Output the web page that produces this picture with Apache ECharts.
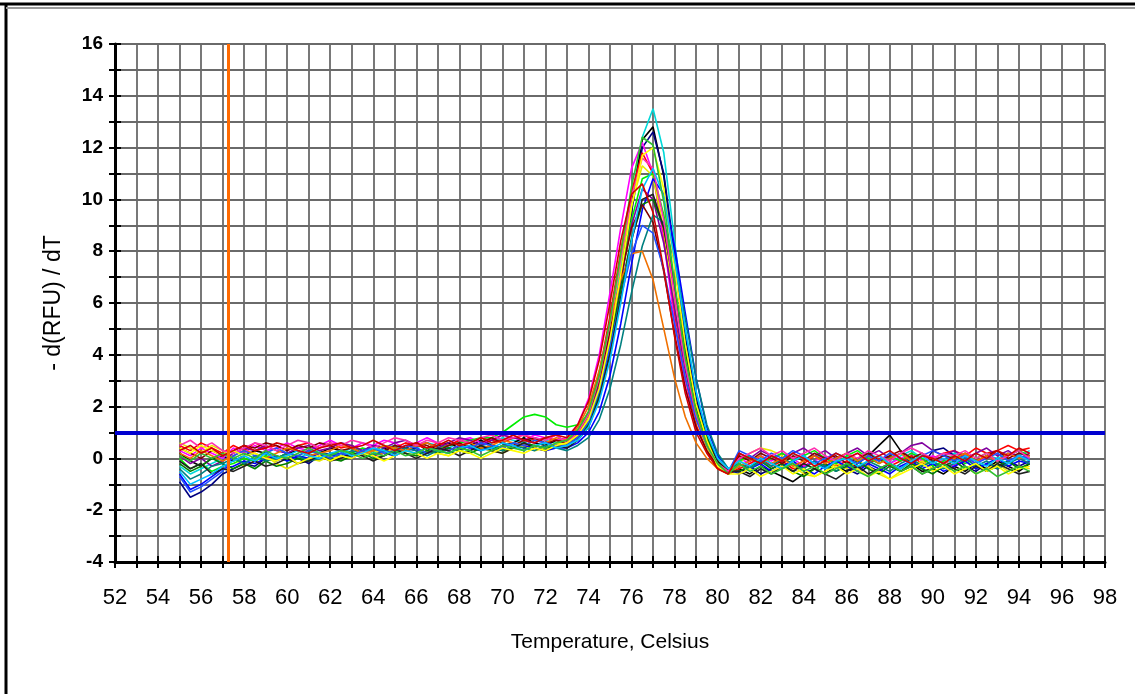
<!DOCTYPE html>
<html>
<head>
<meta charset="utf-8">
<title>Melt curve</title>
<script src="https://cdn.jsdelivr.net/npm/echarts@6/dist/echarts.min.js"></script>
<style>
  html, body { margin: 0; padding: 0; background: #fff; }
  #chart { width: 1135px; height: 694px; }
</style>
</head>
<body>
<div id="chart"></div>
<script>
// temperature steps (Celsius)
const temperatures = [
  55, 55.5, 56, 56.5, 57, 57.5, 58, 58.5, 59, 59.5,
  60, 60.5, 61, 61.5, 62, 62.5, 63, 63.5, 64, 64.5,
  65, 65.5, 66, 66.5, 67, 67.5, 68, 68.5, 69, 69.5,
  70, 70.5, 71, 71.5, 72, 72.5, 73, 73.5, 74, 74.5,
  75, 75.5, 76, 76.5, 77, 77.5, 78, 78.5, 79, 79.5,
  80, 80.5, 81, 81.5, 82, 82.5, 83, 83.5, 84, 84.5,
  85, 85.5, 86, 86.5, 87, 87.5, 88, 88.5, 89, 89.5,
  90, 90.5, 91, 91.5, 92, 92.5, 93, 93.5, 94, 94.5
];

// -d(RFU)/dT per well
const well01 = [
  -0.3, -0.6, -0.4, -0.2, 0.0,
  0.1, -0.2, 0.0, 0.2, 0.1, -0.1, 0.0, 0.2, 0.3, 0.1,
  0.2, 0.4, 0.3, 0.2, 0.4, 0.5, 0.3, 0.4, 0.6, 0.5,
  0.4, 0.6, 0.7, 0.5, 0.6, 0.8, 0.7, 0.6, 0.8, 0.7, 0.6,
  0.7, 1.0, 1.6, 2.9, 4.9, 7.4, 10.0, 12.4, 13.5, 11.8, 8.4, 5.0, 2.5, 0.9, -0.1, -0.5,
  -0.3, -0.1, 0.1, -0.2, 0.0, 0.2, -0.1, 0.1, 0.0, -0.2,
  0.1, -0.1, 0.2, 0.0, -0.2, 0.1, 0.3, 0.0, -0.1, 0.1,
  0.2, 0.0, -0.2, 0.1, 0.0, 0.2, 0.1, 0.3
];
const well02 = [
  0.2, -0.1, -0.3, 0.0, 0.1,
  -0.1, 0.1, 0.3, 0.2, 0.0, 0.2, 0.3, 0.1, 0.2, 0.4,
  0.3, 0.1, 0.3, 0.5, 0.4, 0.2, 0.4, 0.6, 0.3, 0.5,
  0.6, 0.4, 0.5, 0.7, 0.5, 0.4, 0.6, 0.8, 0.6, 0.5, 0.7,
  0.6, 0.9, 1.4, 2.6, 4.5, 7.0, 9.8, 12.3, 12.8, 10.9, 7.6, 4.3, 2.0, 0.6, -0.3, -0.6,
  -0.4, -0.6, -0.3, -0.5, -0.7, -0.9, -0.6, -0.4, -0.6, -0.3,
  -0.5, -0.2, 0.1, 0.5, 0.9, 0.3, -0.2, -0.5, -0.4, -0.6,
  -0.3, -0.5, -0.2, -0.4, -0.1, -0.3, -0.5, -0.2
];
const well03 = [
  -0.9, -1.5, -1.3, -1.0, -0.6,
  -0.4, -0.2, -0.3, 0.0, -0.1, 0.1, 0.0, -0.2, 0.1, 0.2,
  0.0, 0.2, 0.1, 0.3, 0.2, 0.1, 0.3, 0.4, 0.2, 0.3,
  0.4, 0.3, 0.5, 0.4, 0.3, 0.5, 0.6, 0.4, 0.5, 0.4, 0.5,
  0.5, 0.8, 1.3, 2.4, 4.2, 6.7, 9.5, 12.0, 12.6, 11.0, 7.9, 4.7, 2.3, 0.8, -0.2, -0.5,
  -0.5, -0.3, -0.6, -0.4, -0.2, -0.5, -0.3, -0.1, -0.4, -0.2,
  -0.4, -0.6, -0.3, -0.5, -0.2, -0.4, -0.1, -0.3, 0.3, 0.4,
  0.1, -0.3, -0.5, -0.2, -0.4, -0.1, -0.3, -0.1
];
const well04 = [
  0.3, 0.1, 0.4, 0.2, 0.0,
  0.4, 0.2, 0.5, 0.3, 0.4, 0.6, 0.4, 0.3, 0.5, 0.7,
  0.5, 0.4, 0.6, 0.5, 0.7, 0.6, 0.4, 0.6, 0.8, 0.6,
  0.5, 0.7, 0.8, 0.6, 0.7, 0.9, 0.8, 0.7, 0.9, 0.8, 0.7,
  0.8, 1.3, 2.3, 4.0, 6.4, 8.9, 11.2, 12.2, 11.0, 8.4, 5.3, 2.8, 1.2, 0.3, -0.3, -0.5,
  0.0, -0.2, 0.1, -0.1, 0.2, 0.0, -0.3, -0.1, 0.1, -0.2,
  0.0, 0.2, -0.1, 0.1, -0.2, 0.0, 0.2, -0.1, 0.1, -0.1,
  -0.3, 0.0, -0.2, 0.1, -0.1, 0.2, 0.0, -0.2
];
const well05 = [
  0.5, 0.3, 0.6, 0.4, 0.2,
  0.5, 0.3, 0.6, 0.4, 0.5, 0.3, 0.5, 0.6, 0.4, 0.6,
  0.4, 0.5, 0.3, 0.1, 0.2, 0.4, 0.6, 0.5, 0.4, 0.6,
  0.5, 0.7, 0.6, 0.8, 0.7, 0.6, 0.8, 0.9, 0.7, 0.8, 0.7,
  0.6, 1.0, 1.8, 3.3, 5.5, 8.0, 10.3, 11.8, 11.0, 8.7, 5.7, 3.1, 1.3, 0.3, -0.4, -0.6,
  -0.4, -0.2, 0.0, -0.3, -0.1, -0.4, -0.2, 0.1, -0.1, -0.3,
  -0.1, -0.4, -0.2, 0.0, -0.3, -0.1, 0.1, -0.2, 0.0, 0.2,
  0.3, 0.1, 0.4, 0.2, 0.3, 0.5, 0.3, 0.4
];
const well06 = [
  0.6, 0.4, 0.2, 0.5, 0.3,
  0.0, -0.3, -0.1, 0.1, -0.2, -0.4, -0.2, 0.0, -0.1, 0.1,
  0.0, 0.2, 0.1, 0.3, 0.2, 0.4, 0.2, 0.1, 0.3, 0.2,
  0.1, 0.3, 0.2, 0.4, 0.3, 0.2, 0.4, 0.5, 0.3, 0.4, 0.6,
  0.5, 0.9, 1.6, 3.1, 5.2, 7.6, 9.8, 11.3, 10.9, 8.8, 5.9, 3.3, 1.5, 0.4, -0.3, -0.5,
  -0.2, 0.2, 0.4, 0.3, 0.1, -0.3, -0.6, -0.7, -0.5, -0.2,
  -0.4, -0.1, -0.3, -0.6, -0.8, -0.5, -0.3, -0.1, -0.4, -0.2,
  -0.5, -0.3, -0.6, -0.4, -0.2, -0.5, -0.3, -0.4
];
const well07 = [
  0.0, -0.4, -0.2, -0.5, -0.3,
  -0.2, 0.0, -0.1, 0.1, 0.0, 0.2, 0.1, 0.3, 0.2, 0.1,
  0.3, 0.2, 0.4, 0.3, 0.5, 0.4, 0.3, 0.5, 0.6, 0.4,
  0.5, 0.6, 0.7, 0.8, 0.8, 1.0, 1.3, 1.6, 1.7, 1.6, 1.3,
  1.2, 1.3, 1.7, 2.8, 4.6, 6.9, 9.2, 10.8, 11.0, 9.4, 6.6, 3.9, 1.9, 0.6, -0.2, -0.5,
  -0.1, 0.1, -0.2, 0.0, 0.2, -0.1, 0.1, 0.3, 0.0, -0.2,
  0.1, 0.3, 0.0, -0.2, 0.1, -0.1, 0.2, 0.0, -0.3, -0.1,
  0.1, -0.2, 0.0, 0.2, -0.1, 0.1, 0.3, 0.1
];
const well08 = [
  -0.6, -1.2, -1.0, -0.7, -0.4,
  -0.3, -0.1, -0.2, 0.0, 0.1, -0.1, 0.1, 0.0, 0.2, 0.1,
  0.2, 0.0, 0.2, 0.1, 0.3, 0.2, 0.4, 0.3, 0.2, 0.4,
  0.3, 0.5, 0.4, 0.3, 0.5, 0.4, 0.6, 0.5, 0.4, 0.3, 0.4,
  0.4, 0.6, 1.0, 1.8, 3.2, 5.2, 7.5, 9.6, 10.8, 10.2, 8.2, 5.6, 3.1, 1.2, 0.1, -0.4,
  -0.6, -0.4, -0.2, -0.5, -0.3, -0.1, -0.4, -0.6, -0.3, -0.1,
  -0.3, -0.5, -0.2, -0.4, -0.6, -0.3, -0.1, -0.4, -0.2, -0.5,
  -0.3, -0.1, -0.4, -0.2, 0.0, -0.3, -0.1, -0.2
];
const well09 = [
  0.1, -0.2, 0.0, -0.3, -0.1,
  0.2, 0.4, 0.3, 0.5, 0.3, 0.2, 0.4, 0.5, 0.3, 0.4,
  0.6, 0.5, 0.3, 0.5, 0.4, 0.6, 0.7, 0.5, 0.6, 0.4,
  0.6, 0.8, 0.7, 0.5, 0.7, 0.9, 0.8, 0.7, 0.6, 0.8, 0.9,
  0.6, 0.9, 1.5, 2.8, 4.7, 6.9, 9.0, 10.4, 10.0, 8.3, 5.8, 3.4, 1.6, 0.5, -0.2, -0.5,
  0.2, 0.0, 0.3, 0.1, -0.1, 0.2, 0.4, 0.1, 0.3, 0.0,
  0.2, 0.4, 0.1, 0.3, 0.0, 0.2, 0.5, 0.6, 0.3, 0.1,
  0.3, 0.0, 0.2, 0.4, 0.1, 0.3, 0.0, 0.2
];
const well10 = [
  -0.2, -0.5, -0.3, 0.0, -0.2,
  -0.4, -0.2, -0.4, -0.1, -0.3, -0.2, 0.0, -0.1, 0.1, 0.0,
  -0.1, 0.1, 0.2, 0.0, 0.1, 0.3, 0.2, 0.1, 0.3, 0.2,
  0.4, 0.3, 0.2, 0.4, 0.5, 0.3, 0.4, 0.6, 0.5, 0.4, 0.5,
  0.5, 0.8, 1.3, 2.5, 4.3, 6.5, 8.5, 9.8, 10.0, 8.9, 6.6, 4.1, 2.1, 0.8, -0.1, -0.5,
  -0.5, -0.3, -0.1, -0.4, -0.2, -0.5, -0.7, -0.4, -0.2, -0.5,
  -0.3, -0.1, -0.4, -0.6, -0.3, -0.5, -0.2, -0.4, -0.6, -0.3,
  -0.1, -0.4, -0.2, -0.5, -0.3, -0.1, -0.4, -0.2
];
const well11 = [
  0.4, 0.2, 0.0, 0.3, 0.1,
  0.3, 0.5, 0.4, 0.6, 0.5, 0.3, 0.5, 0.4, 0.6, 0.5,
  0.3, 0.4, 0.2, 0.4, 0.3, 0.5, 0.4, 0.6, 0.5, 0.3,
  0.5, 0.6, 0.4, 0.6, 0.8, 0.6, 0.5, 0.7, 0.8, 0.6, 0.7,
  0.6, 1.0, 1.7, 3.0, 4.9, 7.0, 8.9, 9.8, 9.1, 7.2, 4.8, 2.7, 1.2, 0.3, -0.3, -0.6,
  0.1, -0.1, 0.2, 0.0, -0.2, 0.1, -0.1, 0.2, 0.0, 0.1,
  -0.2, 0.0, 0.2, -0.1, 0.1, 0.3, 0.0, 0.2, -0.1, 0.1,
  0.0, 0.2, -0.1, 0.1, 0.3, 0.0, 0.2, 0.1
];
const well12 = [
  -0.4, -0.8, -0.6, -0.3, -0.2,
  0.0, -0.2, 0.1, -0.1, 0.0, 0.2, 0.1, -0.1, 0.0, 0.2,
  0.1, 0.3, 0.2, 0.1, 0.3, 0.2, 0.4, 0.3, 0.1, 0.3,
  0.2, 0.4, 0.3, 0.5, 0.4, 0.3, 0.5, 0.4, 0.3, 0.5, 0.4,
  0.3, 0.5, 0.8, 1.5, 2.7, 4.4, 6.4, 8.2, 9.4, 9.1, 7.6, 5.4, 3.1, 1.3, 0.2, -0.4,
  -0.2, -0.4, -0.1, -0.3, 0.0, -0.2, -0.4, -0.1, -0.3, -0.5,
  -0.2, -0.4, -0.1, -0.3, -0.5, -0.2, 0.0, -0.3, -0.1, -0.4,
  -0.2, 0.0, -0.3, -0.1, -0.4, -0.2, 0.0, -0.2
];
const well13 = [
  0.2, 0.0, 0.3, 0.1, -0.1,
  0.1, 0.3, 0.2, 0.0, 0.2, 0.4, 0.3, 0.1, 0.2, 0.3,
  0.5, 0.4, 0.2, 0.3, 0.5, 0.4, 0.3, 0.5, 0.6, 0.4,
  0.3, 0.5, 0.6, 0.4, 0.5, 0.7, 0.6, 0.5, 0.7, 0.6, 0.8,
  0.7, 1.2, 2.0, 3.4, 5.2, 6.9, 7.9, 8.0, 6.9, 5.0, 3.1, 1.6, 0.6, 0.0, -0.4, -0.6,
  -0.3, -0.1, 0.1, -0.2, 0.0, -0.3, -0.1, 0.1, -0.2, 0.0,
  0.2, -0.1, 0.1, -0.2, 0.0, 0.2, -0.1, 0.1, 0.0, -0.2,
  0.0, 0.2, -0.1, 0.1, -0.1, 0.2, 0.0, 0.1
];
const well14 = [
  -0.7, -1.3, -1.1, -0.8, -0.5,
  0.1, 0.3, 0.1, 0.2, 0.4, 0.2, 0.1, 0.3, 0.2, 0.0,
  0.2, 0.1, 0.3, 0.4, 0.2, 0.3, 0.5, 0.4, 0.2, 0.4,
  0.3, 0.5, 0.4, 0.6, 0.5, 0.4, 0.6, 0.5, 0.7, 0.6, 0.5,
  0.5, 0.8, 1.4, 2.6, 4.3, 6.2, 7.9, 9.0, 8.7, 7.3, 5.2, 3.1, 1.5, 0.5, -0.2, -0.5,
  0.3, 0.1, -0.1, 0.2, 0.0, 0.3, 0.1, -0.2, 0.0, 0.2,
  0.0, -0.2, 0.1, -0.1, 0.2, 0.0, -0.2, 0.1, 0.3, 0.1,
  -0.1, 0.1, -0.2, 0.0, 0.2, -0.1, 0.1, 0.0
];
const well15 = [
  -0.1, -0.4, -0.2, -0.6, -0.4,
  -0.5, -0.3, -0.1, -0.3, -0.2, 0.0, -0.2, -0.1, 0.1, -0.1,
  0.0, 0.2, 0.1, -0.1, 0.1, 0.3, 0.2, 0.0, 0.2, 0.4,
  0.3, 0.1, 0.3, 0.5, 0.3, 0.2, 0.4, 0.6, 0.4, 0.3, 0.5,
  0.4, 0.7, 1.2, 2.3, 4.0, 6.2, 8.4, 10.0, 10.2, 8.9, 6.5, 4.0, 2.0, 0.7, -0.1, -0.5,
  -0.5, -0.7, -0.4, -0.6, -0.3, -0.5, -0.2, -0.4, -0.6, -0.8,
  -0.5, -0.3, -0.6, -0.4, -0.2, -0.5, -0.3, -0.6, -0.4, -0.2,
  -0.4, -0.6, -0.3, -0.5, -0.2, -0.4, -0.6, -0.5
];
const well16 = [
  0.5, 0.7, 0.4, 0.6, 0.3,
  0.2, 0.4, 0.6, 0.5, 0.3, 0.5, 0.7, 0.6, 0.4, 0.6,
  0.5, 0.7, 0.6, 0.4, 0.6, 0.8, 0.7, 0.5, 0.7, 0.6,
  0.8, 0.7, 0.6, 0.8, 0.9, 0.7, 0.8, 0.9, 0.8, 0.7, 0.9,
  0.6, 1.0, 1.7, 3.1, 5.2, 7.7, 10.1, 11.6, 11.2, 9.2, 6.3, 3.6, 1.7, 0.5, -0.2, -0.5,
  0.0, 0.2, 0.4, 0.1, 0.3, 0.0, 0.2, 0.4, 0.1, -0.1,
  0.2, 0.0, 0.3, 0.1, -0.1, 0.2, 0.4, 0.2, 0.0, 0.2,
  0.1, 0.3, 0.0, 0.2, -0.1, 0.1, 0.3, 0.0
];
const well17 = [
  0.4, 0.2, 0.5, 0.3, 0.1,
  0.3, 0.1, 0.2, 0.0, -0.1, 0.1, -0.2, 0.0, 0.1, -0.1,
  0.1, 0.0, 0.2, 0.1, -0.1, 0.1, 0.3, 0.2, 0.0, 0.2,
  0.1, 0.3, 0.2, 0.0, 0.2, 0.4, 0.3, 0.2, 0.4, 0.3, 0.5,
  0.6, 0.9, 1.5, 2.7, 4.6, 7.1, 9.7, 11.7, 12.0, 10.4, 7.4, 4.4, 2.1, 0.7, -0.3, -0.6,
  -0.6, -0.4, -0.7, -0.5, -0.3, -0.6, -0.4, -0.7, -0.5, -0.3,
  -0.6, -0.4, -0.7, -0.5, -0.8, -0.6, -0.4, -0.2, -0.5, -0.3,
  -0.6, -0.4, -0.2, -0.5, -0.3, -0.6, -0.4, -0.3
];
const well18 = [
  -0.5, -1.0, -0.8, -0.6, -0.3,
  -0.1, 0.1, -0.1, 0.2, 0.0, 0.1, 0.3, 0.1, 0.0, 0.2,
  0.3, 0.1, 0.2, 0.4, 0.3, 0.1, 0.3, 0.2, 0.4, 0.3,
  0.2, 0.4, 0.5, 0.3, 0.4, 0.6, 0.5, 0.3, 0.5, 0.6, 0.4,
  0.5, 0.7, 1.2, 2.2, 3.8, 6.0, 8.4, 10.4, 11.2, 10.1, 7.7, 5.0, 2.6, 1.0, 0.0, -0.4,
  -0.1, -0.3, 0.0, -0.2, -0.4, -0.1, 0.1, -0.2, -0.4, -0.1,
  0.0, -0.3, -0.1, 0.1, -0.2, -0.4, -0.1, 0.1, -0.2, 0.0,
  -0.2, 0.1, -0.1, -0.3, 0.0, -0.2, 0.1, -0.1
];
const well19 = [
  0.1, -0.1, 0.2, 0.0, 0.2,
  0.0, 0.2, 0.0, 0.3, 0.1, 0.0, 0.2, 0.4, 0.2, 0.1,
  0.3, 0.2, 0.0, 0.2, 0.1, 0.3, 0.1, 0.2, 0.4, 0.3,
  0.2, 0.4, 0.3, 0.1, 0.3, 0.5, 0.4, 0.3, 0.5, 0.4, 0.6,
  0.7, 1.1, 1.8, 3.2, 5.3, 7.9, 10.5, 12.4, 12.1, 9.9, 6.8, 3.9, 1.8, 0.5, -0.2, -0.6,
  -0.2, -0.5, -0.3, -0.6, -0.4, -0.2, -0.5, -0.3, -0.6, -0.4,
  -0.2, -0.5, -0.7, -0.4, -0.2, -0.5, -0.3, -0.6, -0.4, -0.2,
  -0.5, -0.3, -0.6, -0.4, -0.7, -0.5, -0.3, -0.5
];
const well20 = [
  0.3, 0.5, 0.2, 0.4, 0.1,
  0.3, 0.5, 0.3, 0.4, 0.6, 0.5, 0.3, 0.2, 0.4, 0.5,
  0.6, 0.4, 0.5, 0.7, 0.5, 0.3, 0.5, 0.6, 0.4, 0.5,
  0.7, 0.5, 0.6, 0.8, 0.6, 0.7, 0.9, 0.7, 0.6, 0.8, 0.9,
  0.8, 1.3, 2.2, 3.8, 6.0, 8.4, 10.2, 10.6, 9.5, 7.3, 4.7, 2.5, 1.0, 0.2, -0.4, -0.6,
  0.2, 0.0, -0.2, 0.1, -0.1, 0.2, 0.0, -0.3, -0.1, 0.2,
  0.0, 0.2, -0.1, 0.1, 0.3, 0.0, -0.2, 0.1, 0.0, -0.2,
  0.1, -0.1, 0.2, 0.0, 0.3, 0.1, 0.4, 0.2
];

const wells = [
  well01, well02, well03, well04, well05, well06, well07, well08, well09, well10,
  well11, well12, well13, well14, well15, well16, well17, well18, well19, well20
];
const wellColors = [
  '#00d8d8', '#000000', '#000080', '#ff00ff', '#ff0000', '#e8e800', '#00ee00', '#0000ff',
  '#8000a0', '#008000', '#800000', '#008080', '#f07000', '#2050ff', '#202020', '#ff30b0',
  '#ffff00', '#00c0ff', '#30c030', '#d00000'
];

const threshold = 1;      // horizontal threshold line
const meltStart = 57.25;  // orange marker

const chart = echarts.init(document.getElementById('chart'));

const labelFont = "'Liberation Sans', Arial, sans-serif";
const gridColor = '#6a6a6a';

const series = wells.map((values, i) => ({
  type: 'line',
  data: temperatures.map((t, j) => [t, values[j]]),
  showSymbol: false,
  silent: true,
  lineStyle: { color: wellColors[i], width: 1.6 },
  z: 3,
}));

// threshold + orange start marker
series.push({
  type: 'line',
  data: [],
  silent: true,
  markLine: {
    silent: true,
    symbol: 'none',
    label: { show: false },
    animation: false,
    data: [
      { yAxis: threshold, lineStyle: { color: '#0000d0', width: 4, type: 'solid' } },
      { xAxis: meltStart, lineStyle: { color: '#ff6a00', width: 3, type: 'solid' } },
    ],
  },
  z: 5,
});

const option = {
  animation: false,
  backgroundColor: '#fff',
  grid: { left: 115, right: 30, top: 44, bottom: 132 },
  xAxis: [
    {
      type: 'value',
      min: 52,
      max: 98,
      interval: 1,
      name: 'Temperature, Celsius',
      nameLocation: 'middle',
      nameGap: 70,
      nameTextStyle: { fontFamily: labelFont, fontSize: 21, color: '#000' },
      axisLine: { onZero: false, lineStyle: { color: '#000', width: 3 } },
      axisTick: { show: true, length: 6, lineStyle: { color: '#000', width: 2 } },
      axisLabel: {
        margin: 25,
        fontFamily: labelFont,
        fontSize: 22,
        color: '#000',
        formatter: (v) => (v % 2 === 0 ? String(v) : ''),
      },
      splitLine: { show: true, lineStyle: { color: gridColor, width: 1.8 } },
    },
    {
      type: 'value',
      min: 52,
      max: 98,
      interval: 1,
      position: 'bottom',
      axisLine: { show: false, onZero: false },
      axisTick: { show: true, inside: true, length: 6, lineStyle: { color: '#000', width: 2 } },
      axisLabel: { show: false },
      splitLine: { show: false },
    },
  ],
  yAxis: [
    {
      type: 'value',
      min: -4,
      max: 16,
      interval: 1,
      name: '- d(RFU) / dT',
      nameLocation: 'middle',
      nameGap: 50,
      nameRotate: 90,
      nameTextStyle: { fontFamily: labelFont, fontSize: 23, color: '#000' },
      axisLine: { show: true, onZero: false, lineStyle: { color: '#000', width: 3 } },
      axisTick: { show: true, length: 6, lineStyle: { color: '#000', width: 2 } },
      axisLabel: {
        margin: 12,
        fontFamily: labelFont,
        fontSize: 19,
        fontWeight: 'bold',
        color: '#000',
        formatter: (v) => (v % 2 === 0 ? String(v) : ''),
      },
      splitLine: { show: true, lineStyle: { color: gridColor, width: 1.8 } },
    },
    {
      type: 'value',
      min: -4,
      max: 16,
      interval: 1,
      position: 'left',
      axisLine: { show: false, onZero: false },
      axisTick: { show: true, inside: true, length: 6, lineStyle: { color: '#000', width: 2 } },
      axisLabel: { show: false },
      splitLine: { show: false },
    },
  ],
  graphic: [
    { type: 'line', shape: { x1: 6, y1: 4, x2: 6, y2: 694 }, style: { stroke: '#000', lineWidth: 3 } },
    { type: 'line', shape: { x1: 0, y1: 4, x2: 1135, y2: 4 }, style: { stroke: '#000', lineWidth: 3 } },
    { type: 'line', shape: { x1: 6, y1: 8, x2: 1135, y2: 8 }, style: { stroke: '#999', lineWidth: 2 } },
  ],
  series,
};

chart.setOption(option);
</script>
</body>
</html>
